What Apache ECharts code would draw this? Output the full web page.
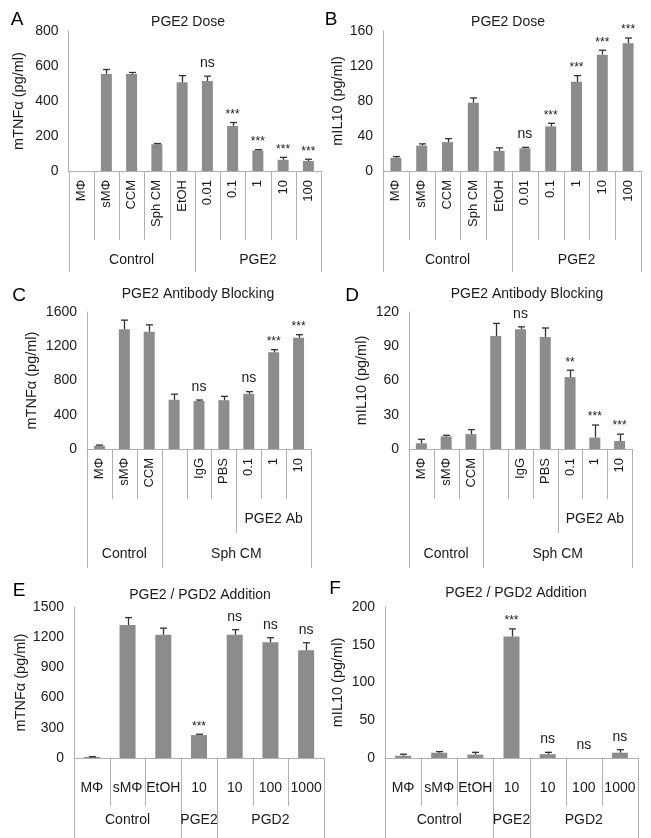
<!DOCTYPE html>
<html><head><meta charset="utf-8">
<script src="https://cdn.jsdelivr.net/npm/echarts@6/dist/echarts.min.js"></script>
<style>html,body{margin:0;padding:0;background:#fff}#c{width:651px;height:838px}</style>
</head><body><div id="c"></div>
<script>
// ---------- DATA ----------
// Panel A: mTNFa, PGE2 dose
const catsA = ['MΦ','sMΦ','CCM','Sph CM','EtOH','0.01','0.1','1','10','100'];
const valsA = [0,555,555,153,507,514,257,118,64,57];
const errsA = [0,25,8,4,38,28,20,4,14,10];
const sigA  = ['','','','','','ns','***','***','***','***'];
const groupsA = [['Control',0,4],['PGE2',5,9]];
const subA = [];
const ticksA = [0,200,400,600,800];

// Panel B: mIL10, PGE2 dose
const catsB = ['MΦ','sMΦ','CCM','Sph CM','EtOH','0.01','0.1','1','10','100'];
const valsB = [15,29,33,78,23,26,51,102,133,146];
const errsB = [1.5,2,4,5.5,3.5,1,3.5,7,5,6];
const sigB  = ['','','','','','ns','***','***','***','***'];
const groupsB = [['Control',0,4],['PGE2',5,9]];
const subB = [];
const ticksB = [0,40,80,120,160];

// Panel C: mTNFa, antibody blocking
const catsC = ['MΦ','sMΦ','CCM','','IgG','PBS','0.1','1','10'];
const valsC = [38,1400,1370,575,560,570,645,1130,1300];
const errsC = [8,105,80,65,12,45,25,30,35];
const sigC  = ['','','','','ns','','ns','***','***'];
const groupsC = [['Control',0,2],['Sph CM',3,8]];
const subC = [['PGE2 Ab',6,8]];
const ticksC = [0,400,800,1200,1600];

// Panel D: mIL10, antibody blocking
const catsD = ['MΦ','sMΦ','CCM','','IgG','PBS','0.1','1','10'];
const valsD = [5,11,13,99,105,98,63,10,7];
const errsD = [3.5,1,4,11,2,8,6,11,6];
const sigD  = ['','','','','ns','','**','***','***'];
const groupsD = [['Control',0,2],['Sph CM',3,8]];
const subD = [['PGE2 Ab',6,8]];
const ticksD = [0,30,60,90,120];

// Panel E: mTNFa, PGE2/PGD2 addition
const catsE = ['MΦ','sMΦ','EtOH','10','10','100','1000'];
const valsE = [10,1320,1225,228,1225,1150,1070];
const errsE = [3,75,65,8,50,45,75];
const sigE  = ['','','','***','ns','ns','ns'];
const groupsE = [['Control',0,2],['PGE2',3,3],['PGD2',4,6]];
const subE = [];
const ticksE = [0,300,600,900,1200,1500];

// Panel F: mIL10, PGE2/PGD2 addition
const catsF = ['MΦ','sMΦ','EtOH','10','10','100','1000'];
const valsF = [3,7,4.5,161,5,0,7];
const errsF = [2,1.5,3,10,2.5,0,4];
const sigF  = ['','','','***','ns','ns','ns'];
const groupsF = [['Control',0,2],['PGE2',3,3],['PGD2',4,6]];
const subF = [];
const ticksF = [0,50,100,150,200];

const titles = ['PGE2 Dose','PGE2 Dose','PGE2 Antibody Blocking','PGE2 Antibody Blocking','PGE2 / PGD2 Addition','PGE2 / PGD2 Addition'];
const letters = ['A','B','C','D','E','F'];
const yNames = ['mTNFα (pg/ml)','mIL10 (pg/ml)','mTNFα (pg/ml)','mIL10 (pg/ml)','mTNFα (pg/ml)','mIL10 (pg/ml)'];

// ---------- LAYOUT ----------
const FONT = '"Liberation Sans", Arial, Helvetica, sans-serif';
const BAR = '#8c8c8c', AXIS = '#b0b0b0', ERR = '#333333', TXT = '#1a1a1a';
const rows = {
  ab: {rotate:90, lm:9, lf:13, d1:69, dSub:0, subLabel:0, dGroup:101, groupLabel:89, bw:11},
  cd: {rotate:90, lm:9, lf:13, d1:50, dSub:84, subLabel:70, dGroup:119, groupLabel:105, bw:11},
  ef: {rotate:0, lm:23, lf:14, d1:48, dSub:0, subLabel:0, dGroup:82, groupLabel:62, bw:16}
};
const panels = [
  {cats:catsA, vals:valsA, errs:errsA, sig:sigA, groups:groupsA, sub:subA, ticks:ticksA,
   g:{left:68.5, top:31, width:252.5, height:140}, row:rows.ab, nameGap:42, letter:[17,20], title:[188,22]},
  {cats:catsB, vals:valsB, errs:errsB, sig:sigB, groups:groupsB, sub:subB, ticks:ticksB,
   g:{left:383, top:31, width:258, height:140}, row:rows.ab, nameGap:38, letter:[331,20], title:[508,22]},
  {cats:catsC, vals:valsC, errs:errsC, sig:sigC, groups:groupsC, sub:subC, ticks:ticksC,
   g:{left:87, top:312, width:224, height:137}, row:rows.cd, nameGap:48, letter:[19,296], title:[198,294]},
  {cats:catsD, vals:valsD, errs:errsD, sig:sigD, groups:groupsD, sub:subD, ticks:ticksD,
   g:{left:409, top:312, width:223, height:137}, row:rows.cd, nameGap:40, letter:[352,296], title:[527,294]},
  {cats:catsE, vals:valsE, errs:errsE, sig:sigE, groups:groupsE, sub:subE, ticks:ticksE,
   g:{left:74, top:607, width:250, height:151}, row:rows.ef, nameGap:46, letter:[19,591], title:[200,595]},
  {cats:catsF, vals:valsF, errs:errsF, sig:sigF, groups:groupsF, sub:subF, ticks:ticksF,
   g:{left:385, top:607, width:253, height:151}, row:rows.ef, nameGap:40, letter:[335,589], title:[516,593]}
];

const grid = [], xAxis = [], yAxis = [], series = [], graphic = [];
const px = v => Math.round(v) + 0.5;

panels.forEach((p, k) => {
  const R = p.row;
  grid.push(Object.assign({containLabel:false}, p.g));
  xAxis.push({
    type:'category', gridIndex:k, data:p.cats.map((c,i)=>String(i)),
    axisLine:{show:true, lineStyle:{color:AXIS, width:1}},
    axisTick:{show:false},
    axisLabel:{interval:0, rotate:R.rotate, margin:R.lm, fontSize:R.lf, color:TXT, fontFamily:FONT,
      formatter:(v,i)=>p.cats[i]},
    splitLine:{show:false}
  });
  const t = p.ticks;
  yAxis.push({
    type:'value', gridIndex:k, min:t[0], max:t[t.length-1], interval:t[1]-t[0],
    axisLine:{show:true, lineStyle:{color:AXIS, width:1}},
    axisTick:{show:false}, splitLine:{show:false},
    axisLabel:{fontSize:14, color:TXT, fontFamily:FONT, margin:10, formatter:v=>String(v)},
    name:yNames[k], nameLocation:'middle', nameRotate:90, nameGap:p.nameGap,
    nameTextStyle:{fontSize:14.5, color:TXT, fontFamily:FONT}
  });
  series.push({
    type:'bar', xAxisIndex:k, yAxisIndex:k, data:p.vals, barWidth:R.bw,
    itemStyle:{color:BAR}, silent:true, z:2, animation:false
  });
  // error bars + significance labels
  series.push({
    type:'custom', xAxisIndex:k, yAxisIndex:k, silent:true, z:3, animation:false, clip:false,
    data:p.vals.map((v,i)=>[i, v, p.errs[i]]),
    encode:{x:0, y:1},
    renderItem:function(params, api){
      const i = params.dataIndex;
      const v = api.value(1), e = api.value(2);
      const b = api.coord([i, v]);
      const et = api.coord([i, v + e]);
      const ch = [];
      const x = px(b[0]);
      if (e > 0) {
        ch.push({type:'line', shape:{x1:x, y1:b[1], x2:x, y2:et[1]}, style:{stroke:ERR, lineWidth:1.3}});
        ch.push({type:'line', shape:{x1:x-3.5, y1:et[1], x2:x+3.5, y2:et[1]}, style:{stroke:ERR, lineWidth:1.3}});
      }
      const s = p.sig[i];
      if (s) {
        const star = s.indexOf('*') >= 0;
        ch.push({type:'text', x:b[0], y:et[1] - (star ? 8 : 13),
          style:{text:s, align:'center', verticalAlign:'middle', fill:TXT,
                 font:(star ? '12px ' : '14px ') + FONT}});
      }
      return {type:'group', children:ch};
    }
  });
  // category separators and group labels
  series.push({
    type:'custom', xAxisIndex:k, yAxisIndex:k, silent:true, z:1, animation:false, clip:false,
    data:p.cats.map((c,i)=>[i, 0]),
    encode:{x:0, y:1},
    renderItem:function(params, api){
      const i = params.dataIndex;
      const c = api.coord([i, 0]);
      const bw = api.size([1, 0])[0];
      const x0 = c[0] - bw/2, y0 = c[1];
      const ch = [];
      const gStart = p.groups.find(g=>g[1]===i);
      const sStart = p.sub.find(g=>g[1]===i);
      const d = (i===0 || gStart) ? R.dGroup : (sStart ? R.dSub : R.d1);
      ch.push({type:'line', shape:{x1:px(x0), y1:y0, x2:px(x0), y2:y0+d}, style:{stroke:AXIS, lineWidth:1}});
      if (i === p.cats.length-1) {
        ch.push({type:'line', shape:{x1:px(x0+bw), y1:y0, x2:px(x0+bw), y2:y0+R.dGroup}, style:{stroke:AXIS, lineWidth:1}});
      }
      if (gStart) {
        const n = gStart[2]-gStart[1]+1;
        ch.push({type:'text', x:x0 + bw*n/2, y:y0 + R.groupLabel,
          style:{text:gStart[0], align:'center', verticalAlign:'middle', fill:TXT, font:'14px '+FONT}});
      }
      if (sStart) {
        const n = sStart[2]-sStart[1]+1;
        ch.push({type:'text', x:x0 + bw*n/2, y:y0 + R.subLabel,
          style:{text:sStart[0], align:'center', verticalAlign:'middle', fill:TXT, font:'14px '+FONT}});
      }
      return {type:'group', children:ch};
    }
  });
  graphic.push({type:'text', x:p.letter[0], y:p.letter[1], silent:true,
    style:{text:letters[k], align:'center', verticalAlign:'middle', fill:'#000', font:'19px '+FONT}});
  graphic.push({type:'text', x:p.title[0], y:p.title[1], silent:true,
    style:{text:titles[k], align:'center', verticalAlign:'middle', fill:TXT, font:'14px '+FONT}});
});

const chart = echarts.init(document.getElementById('c'), null, {renderer:'canvas', width:651, height:838});
chart.setOption({animation:false, backgroundColor:'#fff', grid, xAxis, yAxis, series, graphic});
</script>
</body></html>
